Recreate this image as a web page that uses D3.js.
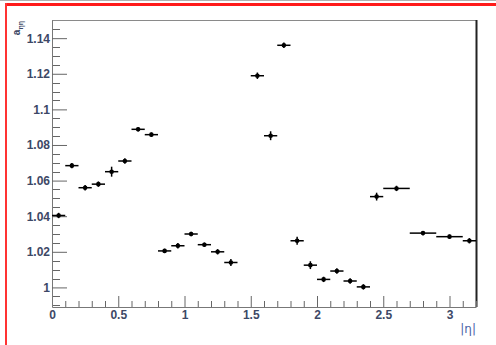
<!DOCTYPE html>
<html>
<head>
<meta charset="utf-8">
<script src="https://cdn.jsdelivr.net/npm/d3@7"></script>
<style>
  body { margin: 0; background: #fff; }
  svg { display: block; }
  .tick text { font-family: "Liberation Sans", Arial, sans-serif; font-size: 12px; font-weight: bold; fill: #3d4866; }
</style>
</head>
<body>
<svg id="chart" width="496" height="345"></svg>
<script>
// bins in |eta| and the fitted value per bin
const etaLo = [0.0, 0.1, 0.2, 0.3, 0.4, 0.5, 0.6, 0.7, 0.8, 0.9, 1.0, 1.1, 1.2, 1.3,
  1.5, 1.6, 1.7, 1.8, 1.9, 2.0, 2.1, 2.2, 2.3, 2.4, 2.5, 2.7, 2.9, 3.1];
const etaHi = [0.1, 0.2, 0.3, 0.4, 0.5, 0.6, 0.7, 0.8, 0.9, 1.0, 1.1, 1.2, 1.3, 1.4,
  1.6, 1.7, 1.8, 1.9, 2.0, 2.1, 2.2, 2.3, 2.4, 2.5, 2.7, 2.9, 3.1, 3.2];
const values = [1.0404, 1.0684, 1.0560, 1.0580, 1.0650, 1.0710, 1.0888, 1.0858, 1.0205, 1.0234,
  1.0300, 1.0240, 1.0200, 1.0140, 1.1189, 1.0852, 1.1360, 1.0262, 1.0125, 1.0045,
  1.0092, 1.0036, 1.0003, 1.0510, 1.0556, 1.0305, 1.0285, 1.0262];
const errors = [0.0015, 0.0015, 0.0015, 0.0015, 0.0028, 0.0015, 0.0012, 0.0012, 0.0012, 0.0015,
  0.0012, 0.0012, 0.0015, 0.0020, 0.0018, 0.0025, 0.0015, 0.0022, 0.0022, 0.0015,
  0.0015, 0.0015, 0.0015, 0.0022, 0.0015, 0.0012, 0.0012, 0.0015];
const xTicks = [0, 0.5, 1, 1.5, 2, 2.5, 3];
const yTicks = [1, 1.02, 1.04, 1.06, 1.08, 1.1, 1.12, 1.14];

const svg = d3.select("#chart");
const margin = { top: 20, right: 20, bottom: 38, left: 52 };
const width = 496 - margin.left - margin.right;
const height = 345 - margin.top - margin.bottom;

// canvas decorations (selected pad outline)
svg.append("line").attr("x1", 0).attr("x2", 496).attr("y1", 0.5).attr("y2", 0.5)
  .attr("stroke", "#b0b0b0").attr("stroke-width", 1);
svg.append("line").attr("x1", 5).attr("x2", 496).attr("y1", 4.5).attr("y2", 4.5)
  .attr("stroke", "#ff1a1a").attr("stroke-width", 3);
svg.append("line").attr("x1", 6).attr("x2", 6).attr("y1", 3).attr("y2", 345)
  .attr("stroke", "#ff3333").attr("stroke-width", 2);

const x = d3.scaleLinear().domain([0, 3.2]).range([0, width]);
const y = d3.scaleLinear().domain([0.989, 1.1502]).range([height, 0]);

const g = svg.append("g").attr("transform", `translate(${margin.left},${margin.top})`);

// frame top and right
g.append("line").attr("x1", 0).attr("x2", width).attr("y1", 0.5).attr("y2", 0.5)
  .attr("stroke", "#8a8a8a");
g.append("line").attr("x1", width + 0.5).attr("x2", width + 0.5).attr("y1", 0).attr("y2", height)
  .attr("stroke", "#222").attr("stroke-width", 2);

// minor ticks
const xMinor = d3.range(0, 3.21, 0.1).filter(v => Math.abs(v * 2 - Math.round(v * 2)) > 1e-6);
const yMinor = d3.range(0.99, 1.15, 0.005).filter(v => Math.abs(v * 50 - Math.round(v * 50)) > 1e-6);

g.append("g").selectAll("line").data(xMinor).enter().append("line")
  .attr("x1", d => x(d) + 0.5).attr("x2", d => x(d) + 0.5)
  .attr("y1", height).attr("y2", height - 6)
  .attr("stroke", "#666");
g.append("g").selectAll("line").data(yMinor).enter().append("line")
  .attr("y1", d => Math.round(y(d)) + 0.5).attr("y2", d => Math.round(y(d)) + 0.5)
  .attr("x1", 0).attr("x2", 8)
  .attr("stroke", "#666");

// x axis
const xAxis = g.append("g")
  .attr("transform", `translate(0,${height})`)
  .call(d3.axisBottom(x).tickValues(xTicks).tickSizeInner(-11).tickSizeOuter(0)
    .tickPadding(3).tickFormat(d3.format("~g")));
xAxis.select(".domain").attr("stroke", "#777");
xAxis.selectAll(".tick line").attr("stroke", "#666");

// y axis
const yAxis = g.append("g")
  .call(d3.axisLeft(y).tickValues(yTicks).tickSizeInner(-15).tickSizeOuter(0)
    .tickPadding(2).tickFormat(d => String(+d.toFixed(2))));
yAxis.select(".domain").attr("stroke", "#777");
yAxis.selectAll(".tick line").attr("stroke", "#666");

// axis titles
g.append("text")
  .attr("x", width).attr("y", height + 26)
  .attr("text-anchor", "end")
  .attr("font-family", "'DejaVu Sans', sans-serif").attr("font-size", 12)
  .attr("fill", "#4a63a8")
  .text("|η|");

const yt = g.append("text")
  .attr("transform", `translate(${-32},${1}) rotate(-90)`)
  .attr("text-anchor", "end")
  .attr("font-family", "'Liberation Sans', sans-serif").attr("font-size", 10)
  .attr("font-weight", "bold")
  .attr("fill", "#3d4866");
yt.append("tspan").text("a");
yt.append("tspan").attr("dy", 3).attr("font-size", 7).text("ηη");

// data points with error bars
const pts = etaLo.map((lo, i) => ({ lo, hi: etaHi[i], v: values[i], e: errors[i] }));
const pg = g.append("g");

pg.selectAll(".hbar").data(pts).enter().append("line")
  .attr("x1", d => x(d.lo)).attr("x2", d => x(d.hi))
  .attr("y1", d => y(d.v)).attr("y2", d => y(d.v))
  .attr("stroke", "#000").attr("stroke-width", 1.5);
pg.selectAll(".vbar").data(pts).enter().append("line")
  .attr("x1", d => x((d.lo + d.hi) / 2)).attr("x2", d => x((d.lo + d.hi) / 2))
  .attr("y1", d => y(d.v - d.e)).attr("y2", d => y(d.v + d.e))
  .attr("stroke", "#000").attr("stroke-width", 1.5);
pg.selectAll("circle").data(pts).enter().append("circle")
  .attr("cx", d => x((d.lo + d.hi) / 2)).attr("cy", d => y(d.v))
  .attr("r", 2.3).attr("fill", "#000");
</script>
</body>
</html>
